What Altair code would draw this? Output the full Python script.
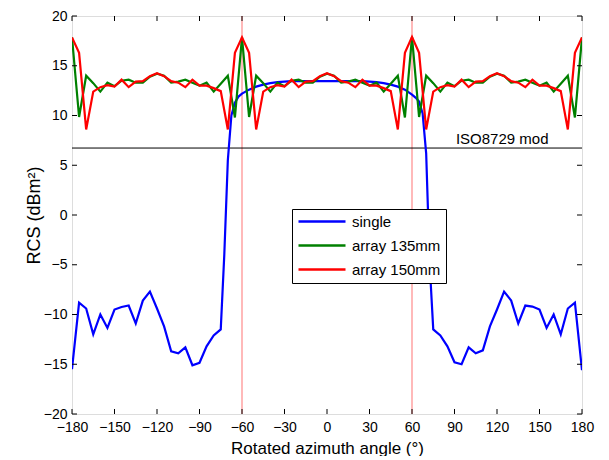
import altair as alt
import pandas as pd

# ---------------- data ----------------
angles = [-180, -175, -170, -165, -160, -155, -150, -145, -140, -135, -130, -125,
          -120, -115, -110, -105, -100, -95, -90, -85, -80, -75, -70, -65,
          -60, -55, -50, -45, -40, -35, -30, -25, -20, -15, -10, -5,
          0, 5, 10, 15, 20, 25, 30, 35, 40, 45, 50, 55,
          60, 65, 70, 75, 80, 85, 90, 95, 100, 105, 110, 115,
          120, 125, 130, 135, 140, 145, 150, 155, 160, 165, 170, 175, 180]

array_135mm = [17.85, 9.85, 14.0, 13.25, 12.4, 13.3, 12.95, 13.5, 13.6, 13.3, 13.3, 13.9,
               14.2, 14.0, 13.3, 13.4, 13.6, 13.3, 13.0, 13.3, 12.4, 13.2, 14.0, 9.8,
               17.85, 9.85, 14.0, 13.25, 12.4, 13.3, 12.95, 13.5, 13.6, 13.3, 13.3, 13.9,
               14.2, 14.0, 13.3, 13.4, 13.6, 13.3, 13.0, 13.3, 12.4, 13.2, 14.0, 9.8,
               17.9, 9.85, 14.0, 13.25, 12.4, 13.3, 12.95, 13.5, 13.6, 13.3, 13.3, 13.9,
               14.2, 14.0, 13.3, 13.4, 13.6, 13.3, 13.0, 13.3, 12.4, 13.2, 14.0, 9.8, 17.85]

array_150mm = [17.85, 16.3, 8.6, 12.4, 12.85, 13.05, 12.9, 13.6, 12.85, 13.4, 13.45, 13.95,
               14.25, 13.95, 13.45, 13.3, 12.85, 13.6, 13.0, 13.0, 12.75, 12.45, 8.6, 16.3,
               17.85, 16.3, 8.6, 12.4, 12.85, 13.05, 12.9, 13.6, 12.85, 13.4, 13.45, 13.95,
               14.25, 13.95, 13.45, 13.3, 12.85, 13.6, 13.0, 13.0, 12.75, 12.45, 8.6, 16.3,
               17.9, 16.3, 8.6, 12.4, 12.85, 13.05, 12.9, 13.6, 12.85, 13.4, 13.45, 13.95,
               14.25, 13.95, 13.45, 13.3, 12.85, 13.6, 13.0, 13.0, 12.75, 12.45, 8.6, 16.3, 17.85]

single_angles = [-180, -175, -170, -165, -160, -155, -150, -145, -140, -135, -130, -125,
                 -120, -115, -110, -105, -100, -95, -90, -85, -80, -75, -72.5, -70,
                 -67.5, -65, -62.5, -60, -55, -50, -45, -40, -35, -30, -25, -20,
                 -15, -10, -5, 0, 5, 10, 15, 20, 25, 30, 35, 40,
                 45, 50, 55, 60, 62.5, 65, 67.5, 70, 72.5, 75, 80, 85,
                 90, 95, 100, 105, 110, 115, 120, 125, 130, 135, 140, 145,
                 150, 155, 160, 165, 170, 175, 180]
single = [-15.5, -8.8, -9.4, -12.0, -10.0, -11.35, -9.5, -9.25, -9.1, -10.9, -8.6, -7.7,
          -9.4, -11.2, -13.7, -13.9, -13.3, -15.1, -14.85, -13.2, -12.1, -11.5, -4.0, 5.5,
          10.0, 11.3, 11.9, 12.2, 12.6, 12.9, 13.1, 13.25, 13.35, 13.4, 13.45, 13.45,
          13.45, 13.45, 13.45, 13.45, 13.45, 13.45, 13.45, 13.45, 13.45, 13.4, 13.35, 13.25,
          13.1, 12.9, 12.6, 12.1, 11.8, 11.4, 10.2, 6.2, -5.0, -11.5, -12.1, -13.2,
          -14.8, -15.0, -13.3, -13.9, -13.6, -11.2, -9.5, -7.7, -8.6, -10.9, -9.1, -9.2,
          -9.5, -11.35, -10.0, -12.0, -9.4, -8.8, -15.6]

series_names = ["single", "array 135mm", "array 150mm"]
series_colors = ["#0000FF", "#008000", "#FF0000"]

iso_level = [6.73]
iso_label = ["ISO8729 mod"]
iso_label_angle = [91]
marker_angles = [-60, 60]
x_ticks = [-180, -150, -120, -90, -60, -30, 0, 30, 60, 90, 120, 150, 180]
y_ticks = [-20, -15, -10, -5, 0, 5, 10, 15, 20]

# ---------------- tables ----------------
df = pd.concat([
    pd.DataFrame({"angle": single_angles, "rcs": single, "series": "single"}),
    pd.DataFrame({"angle": angles, "rcs": array_135mm, "series": "array 135mm"}),
    pd.DataFrame({"angle": angles, "rcs": array_150mm, "series": "array 150mm"}),
], ignore_index=True)

W, H = 510, 398
FONT = "Liberation Sans"

x_scale = alt.Scale(domain=[-180, 180], nice=False, zero=False)
y_scale = alt.Scale(domain=[-20, 20], nice=False, zero=False)

color_enc = alt.Color(
    "series:N",
    scale=alt.Scale(domain=series_names, range=series_colors),
    legend=alt.Legend(
        title=None, orient="none", legendX=220, legendY=193,
        direction="vertical",
        symbolType="stroke", symbolSize=2209, symbolStrokeWidth=2.5,
        labelFontSize=15, labelFont=FONT, labelColor="black", labelOffset=5,
        strokeColor="black", fillColor="white", padding=5, rowPadding=8,
        clipHeight=15, cornerRadius=0,
    ),
)

x_axis = alt.Axis(values=x_ticks, title="Rotated azimuth angle (°)", ticks=False,
                  domain=False, grid=False, labelFontSize=14, labelPadding=6,
                  titleFontSize=17, titleFontWeight="normal", titlePadding=6,
                  labelColor="black", titleColor="black", labelFlush=False)
y_axis = alt.Axis(values=y_ticks, title="RCS (dBm²)", ticks=False, domain=False,
                  grid=False, labelFontSize=14, labelPadding=5, titleFontSize=18,
                  titleFontWeight="normal", titlePadding=0, labelColor="black",
                  titleColor="black", labelFlush=False)


def X(field):
    return alt.X(field, scale=x_scale, axis=x_axis)


def Y(field):
    return alt.Y(field, scale=y_scale, axis=y_axis)


base = alt.Chart(df)


def series_layer(name):
    return base.transform_filter(alt.datum.series == name).mark_line(
        strokeWidth=2.2, clip=True
    ).encode(x=X("angle:Q"), y=Y("rcs:Q"), color=color_enc)


markers = alt.Chart(pd.DataFrame({"angle": marker_angles})).mark_rule(
    color="#FF0000", strokeWidth=1, opacity=0.55
).encode(x=X("angle:Q"))

iso_line = alt.Chart(pd.DataFrame({"lvl": iso_level})).mark_rule(
    color="black", strokeWidth=1
).encode(y=Y("lvl:Q"))

iso_text = alt.Chart(pd.DataFrame({"a": iso_label_angle, "lvl": iso_level, "t": iso_label})).mark_text(
    align="left", baseline="alphabetic", dy=-4, fontSize=15, font=FONT, color="black"
).encode(x=X("a:Q"), y=Y("lvl:Q"), text="t:N")

xt = pd.DataFrame({"t": x_ticks})
yt = pd.DataFrame({"t": y_ticks})
tick_bottom = alt.Chart(xt).mark_rule(color="black", strokeWidth=1).encode(
    x=X("t:Q"), y=alt.value(H), y2=alt.value(H - 5))
tick_top = alt.Chart(xt).mark_rule(color="black", strokeWidth=1).encode(
    x=X("t:Q"), y=alt.value(0), y2=alt.value(5))
tick_left = alt.Chart(yt).mark_rule(color="black", strokeWidth=1).encode(
    y=Y("t:Q"), x=alt.value(0), x2=alt.value(5))
tick_right = alt.Chart(yt).mark_rule(color="black", strokeWidth=1).encode(
    y=Y("t:Q"), x=alt.value(W), x2=alt.value(W - 5))

chart = alt.layer(
    markers, iso_line, iso_text,
    series_layer("single"), series_layer("array 135mm"), series_layer("array 150mm"),
    tick_bottom, tick_top, tick_left, tick_right,
).properties(
    width=W, height=H,
    autosize=alt.AutoSizeParams(type="none"),
    padding={"left": 64, "top": 8, "right": 19, "bottom": 42},
).configure_view(
    stroke="black", strokeWidth=1
).configure_axis(
    labelFont=FONT, titleFont=FONT
).configure_legend(
    labelFont=FONT
).configure(background="white")

chart.save("out.html", embed_options={"renderer": "svg", "actions": False})
